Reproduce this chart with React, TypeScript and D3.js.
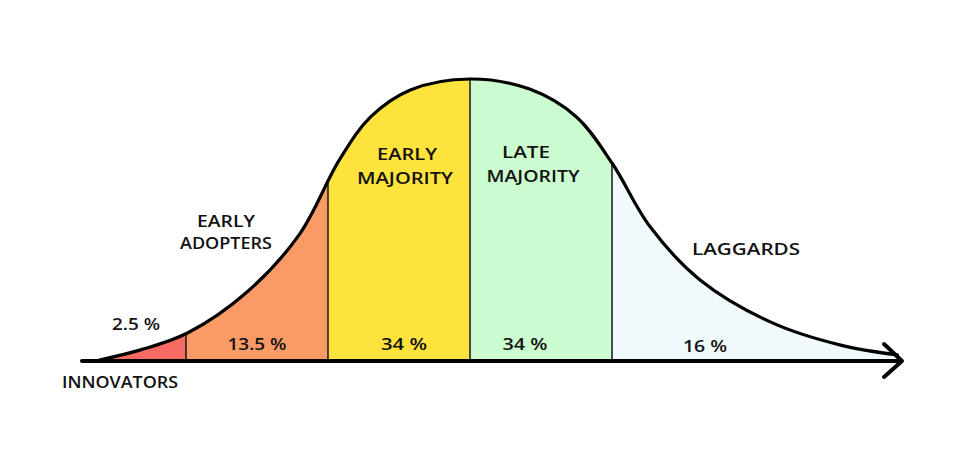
import React from "react";
import * as d3 from "d3";

// Curve: position in standard deviations, relative height
const curveSigma = [-2.61, -2.32, -1.99, -1.57, -1.2, -0.92, -0.7, -0.42, 0, 0.42, 0.75, 1.0, 1.27, 1.62, 2.13, 2.61, 3.01];
const curveHeight = [0, 0.036, 0.096, 0.242, 0.448, 0.712, 0.865, 0.961, 1, 0.964, 0.865, 0.701, 0.473, 0.285, 0.132, 0.053, 0.018];

// Segments
const segNames = ["INNOVATORS", "EARLY ADOPTERS", "EARLY MAJORITY", "LATE MAJORITY", "LAGGARDS"];
const segShares = ["2.5 %", "13.5 %", "34 %", "34 %", "16 %"];
const segStart = [-2.7, -2.0, -1.0, 0, 1.0];
const segEnd = [-2.0, -1.0, 0, 1.0, 3.1];
const segColors = ["#f76b62", "#fa9b67", "#fee33c", "#cbfccf", "#f0fafd"];
const dividers = [-2, -1, 0, 1];

const W = 960;
const H = 458;
const BASE = 360;
const PEAK = 79;
const font = "'Open Sans', 'DejaVu Sans', sans-serif";

export default function App() {
  const x = d3.scaleLinear().domain([0, 1]).range([470, 612]);
  const y = d3.scaleLinear().domain([0, 1]).range([BASE, PEAK]);
  const pts = curveSigma.map((s, i) => [s, curveHeight[i]] as [number, number]);
  const area = d3
    .area<[number, number]>()
    .x((d) => x(d[0]))
    .y0(BASE)
    .y1((d) => y(d[1]))
    .curve(d3.curveCatmullRom.alpha(0.5));
  const line = d3
    .line<[number, number]>()
    .x((d) => x(d[0]))
    .y((d) => y(d[1]))
    .curve(d3.curveCatmullRom.alpha(0.5));
  const areaPath = area(pts) || "";
  const linePath = line(pts) || "";

  const textStyle: React.CSSProperties = {
    fontFamily: font,
    fontWeight: 600,
    fontSize: 17,
    fill: "#111",
  };

  const label = (txt: string, cx: number, by: number, w: number) => (
    <text x={cx} y={by} textAnchor="middle" textLength={w} lengthAdjust="spacingAndGlyphs" style={textStyle}>
      {txt}
    </text>
  );

  return (
    <svg width={W} height={H} style={{ position: "absolute", left: 0, top: 0, background: "#fff" }}>
      <defs>
        <clipPath id="bell">
          <path d={areaPath} />
        </clipPath>
      </defs>
      <g clipPath="url(#bell)">
        {segStart.map((s, i) => (
          <rect key={i} x={x(s)} y={0} width={x(segEnd[i]) - x(s)} height={BASE} fill={segColors[i]} />
        ))}
        {dividers.map((d, i) => (
          <line key={i} x1={x(d)} x2={x(d)} y1={BASE} y2={0} stroke="#222" strokeWidth={1.6} />
        ))}
      </g>
      <path d={linePath} fill="none" stroke="#000" strokeWidth={3.2} strokeLinejoin="round" strokeLinecap="round" />
      {/* axis with arrow */}
      <line x1={82} x2={901} y1={BASE + 1} y2={BASE + 1} stroke="#000" strokeWidth={4} strokeLinecap="round" />
      <polyline points={`884,344 902,361 884,377`} fill="none" stroke="#000" strokeWidth={4} strokeLinecap="round" strokeLinejoin="round" />

      {/* category labels */}
      {label(segNames[0], 120, 388, 116)}
      {label("EARLY", 226, 227, 58)}
      {label("ADOPTERS", 226, 249, 92)}
      {label("EARLY", 407, 160, 60)}
      {label("MAJORITY", 405, 184, 96)}
      {label("LATE", 526, 158, 48)}
      {label("MAJORITY", 533, 182, 93)}
      {label(segNames[4], 746, 255, 108)}

      {/* share labels */}
      {label(segShares[0], 136, 330, 48)}
      {label(segShares[1], 257, 350, 59)}
      {label(segShares[2], 404, 350, 46)}
      {label(segShares[3], 525, 350, 45)}
      {label(segShares[4], 705, 352, 44)}
    </svg>
  );
}
